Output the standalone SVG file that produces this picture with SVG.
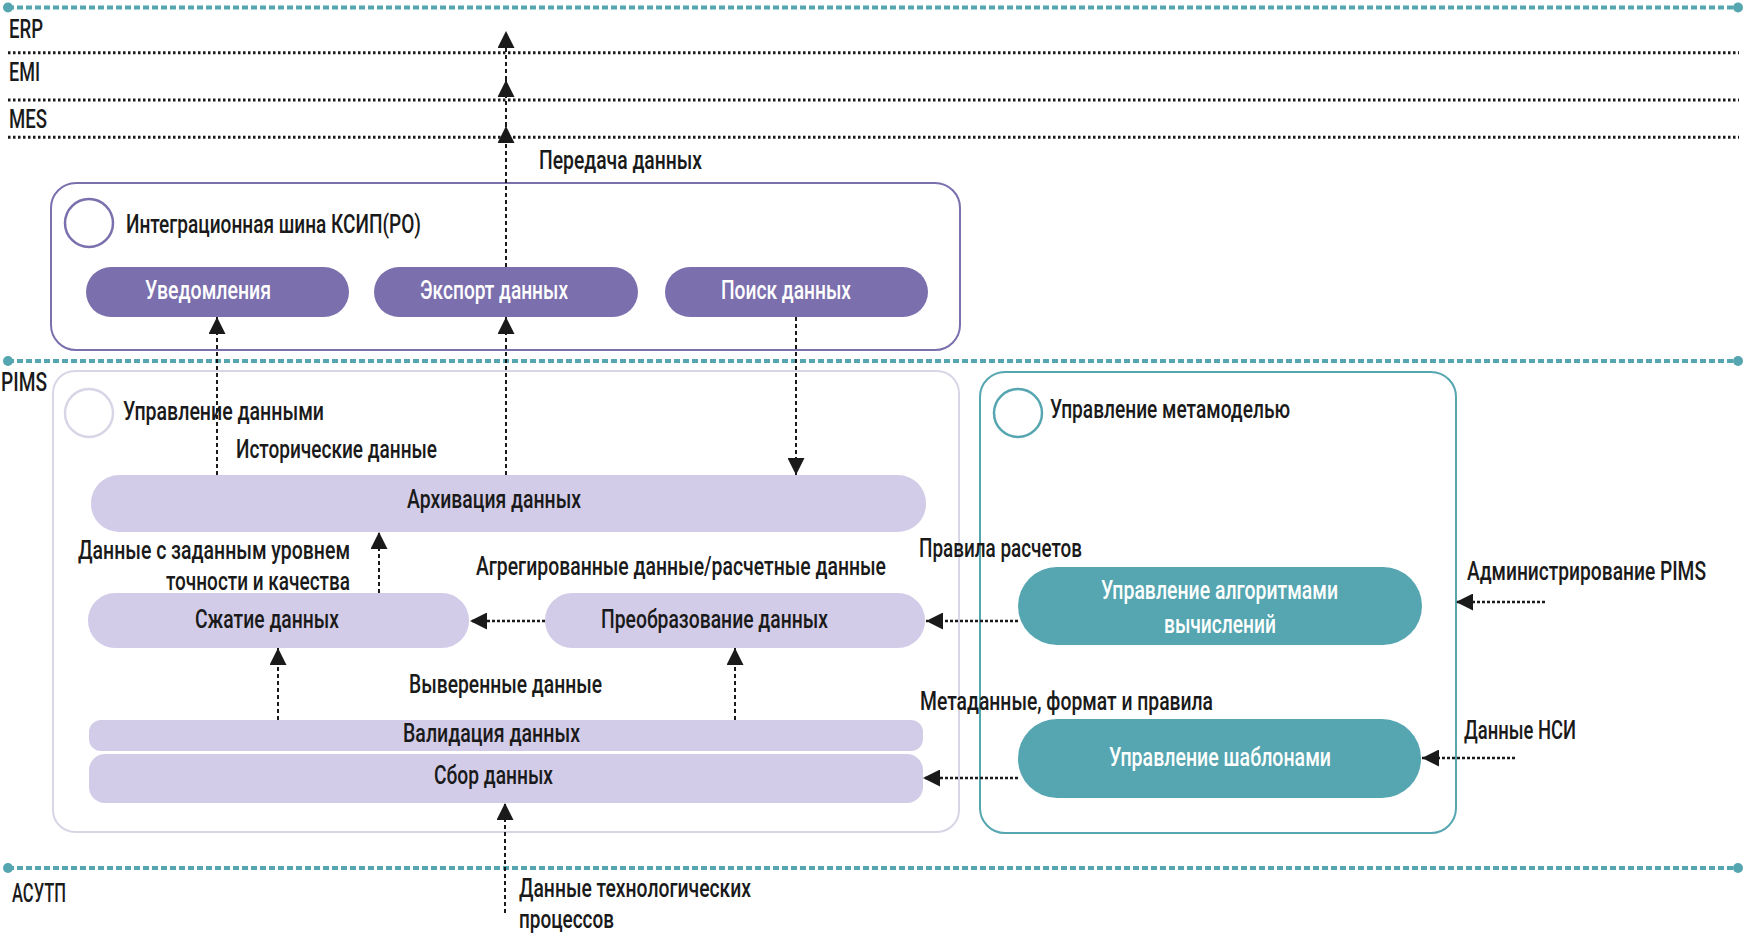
<svg xmlns="http://www.w3.org/2000/svg" width="1746" height="938" viewBox="0 0 1746 938">
<style>
text{font-family:Roboto,"Liberation Sans",sans-serif;font-size:25px;font-weight:500;fill:#1a1a1a}
.w{fill:#fff;font-size:25px;font-weight:500}
.t{font-size:26px}
.teal{stroke:#55a6b0;stroke-width:4;stroke-dasharray:6 3;fill:none}
.dot{stroke:#1a1a1a;stroke-width:3;stroke-dasharray:2.5 2.5;fill:none}
.lav{fill:#d2cce8}
.pur{fill:#7b6fae}
.tl{fill:#55a6b0}
.v{stroke:#1a1a1a;stroke-width:2;stroke-dasharray:4 3;fill:none;marker-end:url(#ah)}
.h{stroke:#1a1a1a;stroke-width:2.5;stroke-dasharray:3 2;fill:none;marker-end:url(#ah)}
</style>
<defs>
<marker id="ah" viewBox="0 0 17 17" refX="17" refY="8.5" markerWidth="17" markerHeight="17" markerUnits="userSpaceOnUse" orient="auto">
<path d="M0,0 L17,8.5 L0,17 Z" fill="#1a1a1a"/>
</marker>
</defs>
<rect width="1746" height="938" fill="#fff"/>
<g id="layers">
<line class="teal" x1="8" y1="7.5" x2="1738" y2="7.5"/>
<circle cx="8" cy="7.5" r="5" fill="#55a6b0"/><circle cx="1738" cy="7.5" r="5" fill="#55a6b0"/>
<line class="dot" x1="8" y1="52.7" x2="1739" y2="52.7"/>
<line class="dot" x1="8" y1="100" x2="1739" y2="100"/>
<line class="dot" x1="8" y1="137.3" x2="1739" y2="137.3"/>
<line class="teal" x1="8" y1="361" x2="1738" y2="361"/>
<circle cx="8" cy="361" r="5" fill="#55a6b0"/><circle cx="1738" cy="361" r="5" fill="#55a6b0"/>
<line class="teal" x1="8" y1="868" x2="1738" y2="868"/>
<circle cx="8" cy="868" r="5" fill="#55a6b0"/><circle cx="1738" cy="868" r="5" fill="#55a6b0"/>
<text x="9" y="38" textLength="34" lengthAdjust="spacingAndGlyphs">ERP</text>
<text x="9" y="81" textLength="31" lengthAdjust="spacingAndGlyphs">EMI</text>
<text x="9" y="128" textLength="38" lengthAdjust="spacingAndGlyphs">MES</text>
<text x="1" y="391" textLength="46" lengthAdjust="spacingAndGlyphs">PIMS</text>
<text x="12" y="902" textLength="54" lengthAdjust="spacingAndGlyphs">АСУТП</text>
</g>
<g id="integration-bus">
<rect x="51" y="183" width="909" height="167" rx="25" fill="none" stroke="#7b6fae" stroke-width="2"/>
<circle cx="89" cy="223" r="24" fill="none" stroke="#7b6fae" stroke-width="2.5"/>
<text class="t" x="126" y="233" textLength="295" lengthAdjust="spacingAndGlyphs">Интеграционная шина КСИП(РО)</text>
</g>
<g id="notifications"><rect class="pur" x="86" y="267" width="263" height="50" rx="25"/><text class="w" x="145" y="299" textLength="126" lengthAdjust="spacingAndGlyphs">Уведомления</text></g>
<g id="export"><rect class="pur" x="374" y="267" width="264" height="50" rx="25"/><text class="w" x="420" y="299" textLength="148" lengthAdjust="spacingAndGlyphs">Экспорт данных</text></g>
<g id="search"><rect class="pur" x="665" y="267" width="263" height="50" rx="25"/><text class="w" x="721" y="299" textLength="130" lengthAdjust="spacingAndGlyphs">Поиск данных</text></g>
<g id="data-management">
<rect x="53" y="371" width="906" height="461" rx="22" fill="none" stroke="#d8d5e6" stroke-width="2"/>
<circle cx="89" cy="413" r="24" fill="none" stroke="#d8d5e6" stroke-width="2.5"/>
<text class="t" x="123" y="420" textLength="201" lengthAdjust="spacingAndGlyphs">Управление данными</text>
</g>
<g id="archive"><rect class="lav" x="91" y="475" width="835" height="57" rx="28"/><text class="t" x="407" y="508" textLength="174" lengthAdjust="spacingAndGlyphs">Архивация данных</text></g>
<g id="compress"><rect class="lav" x="88" y="593" width="381" height="55" rx="27"/><text class="t" x="195" y="628" textLength="144" lengthAdjust="spacingAndGlyphs">Сжатие данных</text></g>
<g id="transform"><rect class="lav" x="545" y="593" width="380" height="55" rx="27"/><text class="t" x="601" y="628" textLength="227" lengthAdjust="spacingAndGlyphs">Преобразование данных</text></g>
<g id="validation"><rect class="lav" x="89" y="720" width="834" height="31" rx="12"/><text class="t" x="403" y="742" textLength="177" lengthAdjust="spacingAndGlyphs">Валидация данных</text></g>
<g id="collect"><rect class="lav" x="89" y="754" width="834" height="49" rx="16"/><text class="t" x="434" y="784" textLength="119" lengthAdjust="spacingAndGlyphs">Сбор данных</text></g>
<g id="metamodel">
<rect x="980" y="372" width="476" height="461" rx="25" fill="none" stroke="#55a6b0" stroke-width="2"/>
<circle cx="1018" cy="413" r="24" fill="none" stroke="#55a6b0" stroke-width="2.5"/>
<text class="t" x="1050" y="418" textLength="240" lengthAdjust="spacingAndGlyphs">Управление метамоделью</text>
</g>
<g id="algorithms"><rect class="tl" x="1018" y="567" width="404" height="78" rx="39"/>
<text class="w" x="1101" y="599" textLength="237" lengthAdjust="spacingAndGlyphs">Управление алгоритмами</text>
<text class="w" x="1164" y="633" textLength="112" lengthAdjust="spacingAndGlyphs">вычислений</text></g>
<g id="templates"><rect class="tl" x="1018" y="719" width="403" height="79" rx="39"/><text class="w" x="1109" y="766" textLength="222" lengthAdjust="spacingAndGlyphs">Управление шаблонами</text></g>
<g id="connectors">
<line class="v" x1="506" y1="267" x2="506" y2="126"/>
<line class="v" x1="506" y1="126" x2="506" y2="80"/>
<line class="v" x1="506" y1="80" x2="506" y2="31"/>
<line class="v" x1="217" y1="475" x2="217" y2="317"/>
<line class="v" x1="506" y1="475" x2="506" y2="317"/>
<line class="v" x1="796" y1="317" x2="796" y2="475"/>
<line class="v" x1="379" y1="593" x2="379" y2="532"/>
<line class="v" x1="278" y1="720" x2="278" y2="648"/>
<line class="v" x1="735" y1="720" x2="735" y2="648"/>
<line class="v" x1="505" y1="913" x2="505" y2="803"/>
<line class="h" x1="545" y1="621" x2="470" y2="621"/>
<line class="h" x1="1018" y1="621" x2="926" y2="621"/>
<line class="h" x1="1018" y1="778" x2="923" y2="778"/>
<line class="h" x1="1545" y1="602" x2="1456" y2="602"/>
<line class="h" x1="1515" y1="758" x2="1422" y2="758"/>
</g>
<g id="labels">
<text x="539" y="169" textLength="163" lengthAdjust="spacingAndGlyphs">Передача данных</text>
<text x="236" y="458" textLength="201" lengthAdjust="spacingAndGlyphs">Исторические данные</text>
<text x="78" y="559" textLength="272" lengthAdjust="spacingAndGlyphs">Данные с заданным уровнем</text>
<text x="166" y="590" textLength="184" lengthAdjust="spacingAndGlyphs">точности и качества</text>
<text x="476" y="575" textLength="410" lengthAdjust="spacingAndGlyphs">Агрегированные данные/расчетные данные</text>
<text x="919" y="557" textLength="163" lengthAdjust="spacingAndGlyphs">Правила расчетов</text>
<text x="1467" y="580" font-size="23" textLength="239" lengthAdjust="spacingAndGlyphs">Администрирование PIMS</text>
<text x="409" y="693" textLength="193" lengthAdjust="spacingAndGlyphs">Выверенные данные</text>
<text x="920" y="710" textLength="293" lengthAdjust="spacingAndGlyphs">Метаданные, формат и правила</text>
<text x="1464" y="739" textLength="112" lengthAdjust="spacingAndGlyphs">Данные НСИ</text>
<text x="519" y="897" textLength="232" lengthAdjust="spacingAndGlyphs">Данные технологических</text>
<text x="519" y="928" textLength="95" lengthAdjust="spacingAndGlyphs">процессов</text>
</g>
</svg>
